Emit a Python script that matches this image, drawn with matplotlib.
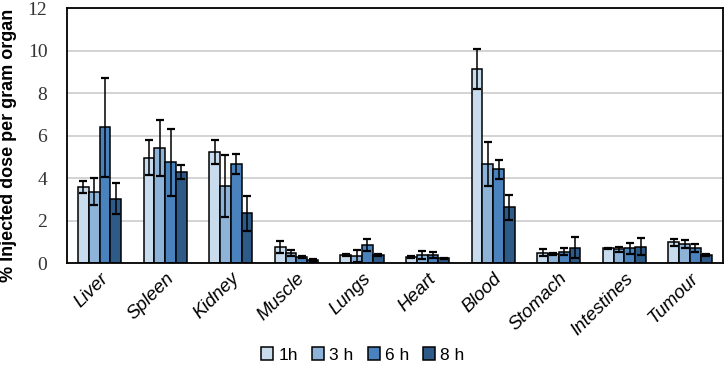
import numpy as np
import matplotlib.pyplot as plt

organs = ['Liver', 'Spleen', 'Kidney', 'Muscle', 'Lungs', 'Heart', 'Blood',
          'Stomach', 'Intestines', 'Tumour']
series = ['1h', '3 h', '6 h', '8 h']

h1 = [3.59, 4.97, 5.24, 0.77, 0.36, 0.30, 9.13, 0.49, 0.69, 0.97]
h3 = [3.36, 5.44, 3.62, 0.46, 0.33, 0.38, 4.66, 0.42, 0.64, 0.89]
h6 = [6.39, 4.75, 4.67, 0.27, 0.86, 0.38, 4.41, 0.53, 0.69, 0.69]
h8 = [3.03, 4.28, 2.34, 0.14, 0.39, 0.22, 2.62, 0.72, 0.78, 0.38]

h1_err = [0.27, 0.83, 0.56, 0.28, 0.05, 0.05, 0.95, 0.17, 0.03, 0.17]
h3_err = [0.63, 1.32, 1.45, 0.14, 0.28, 0.20, 1.03, 0.05, 0.13, 0.18]
h6_err = [2.32, 1.57, 0.49, 0.05, 0.27, 0.15, 0.44, 0.16, 0.24, 0.19]
h8_err = [0.72, 0.33, 0.81, 0.03, 0.05, 0.03, 0.57, 0.50, 0.41, 0.03]

colors = ['#c9dcee', '#8db3d9', '#4a82be', '#2d5a87']

fig = plt.figure(figsize=(7.26, 3.88), dpi=100)
ax = fig.add_axes([0.092, 0.322, 0.9035, 0.6566])

x = np.arange(len(organs))
width = 0.165
values = [h1, h3, h6, h8]
errors = [h1_err, h3_err, h6_err, h8_err]

for i, (vals, errs) in enumerate(zip(values, errors)):
    pos = x + (i - 1.5) * width
    ax.bar(pos, vals, width, color=colors[i], edgecolor='black',
           linewidth=1.1, label=series[i], zorder=2)
    ax.errorbar(pos, vals, yerr=errs, fmt='none', ecolor='black',
                elinewidth=1.1, capsize=3, capthick=1.6, zorder=3)

ax.set_xlim(-0.5, 9.5)
ax.set_ylim(0, 12)
ax.set_yticks(range(0, 13, 2))
ax.yaxis.grid(True, color='#d0d0d0', linewidth=1.3, zorder=0)
ax.set_axisbelow(True)
for s in ax.spines.values():
    s.set_linewidth(1.3)
    s.set_color('black')

ax.tick_params(axis='both', length=0)
ax.tick_params(axis='y', pad=14)
ax.tick_params(axis='x', pad=5)
ax.set_yticklabels([str(v) for v in range(0, 13, 2)],
                   family='Liberation Serif', fontsize=14, color='#333333')
ax.set_xticks(x)
ax.set_xticklabels(organs, rotation=45, ha='right', rotation_mode='anchor',
                   fontsize=13.5, style='italic', family='Liberation Sans')

ax.set_ylabel('% Injected dose per gram organ', fontsize=13, fontweight='bold',
              family='Liberation Sans')
ax.yaxis.set_label_coords(-0.076, 0.46)

fig.legend(loc='center', bbox_to_anchor=(0.5, 0.085), ncol=4, frameon=False,
           handlelength=0.7, handleheight=0.7, handletextpad=0.3,
           columnspacing=0.8, prop={'family': 'Liberation Sans', 'size': 12.5})

fig.savefig('out.png', dpi=100)
